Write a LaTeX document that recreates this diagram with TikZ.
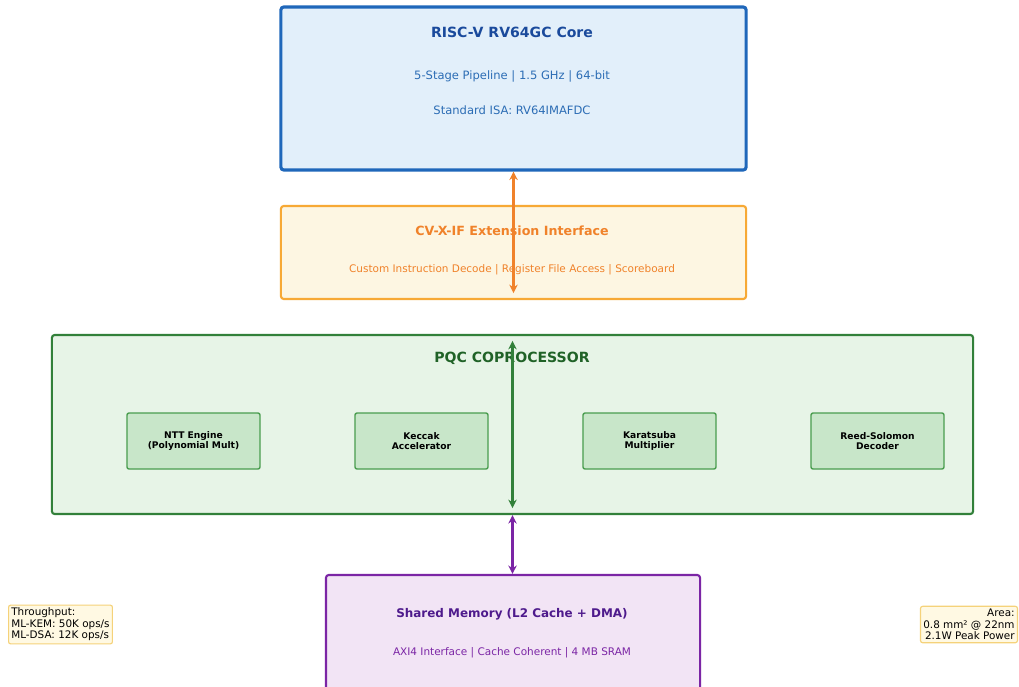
\documentclass[tikz,border=0pt]{standalone}
\usepackage{fontspec}
\setmainfont{DejaVu Sans}
\usetikzlibrary{arrows.meta}
\definecolor{coreline}{HTML}{1F67BA}
\definecolor{corefill}{HTML}{E2EFFA}
\definecolor{coretext}{HTML}{1A4A9C}
\definecolor{coresub}{HTML}{2C6DB5}
\definecolor{ifline}{HTML}{F7A935}
\definecolor{iffill}{HTML}{FDF6E2}
\definecolor{iftext}{HTML}{F0822A}
\definecolor{pqcline}{HTML}{32803A}
\definecolor{pqcfill}{HTML}{E7F4E7}
\definecolor{pqctext}{HTML}{206227}
\definecolor{unitfill}{HTML}{C8E6C9}
\definecolor{unitline}{HTML}{4A9D4F}
\definecolor{memline}{HTML}{7B25A5}
\definecolor{memfill}{HTML}{F2E4F5}
\definecolor{memtext}{HTML}{4E1A8C}
\definecolor{notefill}{HTML}{FFF9E3}
\definecolor{noteline}{HTML}{F5D27A}
\tikzset{
  block/.style={draw, rounded corners=2pt, line width=1.5pt},
  unit/.style={draw=unitline, fill=unitfill, rounded corners=1.5pt, line width=1pt,
    minimum width=3.325cm, minimum height=1.4cm, align=center,
    font=\fontsize{6.5}{6.8}\selectfont\bfseries},
  note/.style={draw=noteline, fill=notefill, rounded corners=1.5pt, line width=0.8pt,
    inner sep=2pt, font=\fontsize{7.4}{8.2}\selectfont},
  link/.style={{Stealth[length=6pt,width=6pt]}-{Stealth[length=6pt,width=6pt]}, line width=1.5pt}
}
\begin{document}
\begin{tikzpicture}[x=0.025cm, y=-0.025cm]
\useasboundingbox[fill=white] (0,0) rectangle (1019,686);
% host core
\node[block, draw=coreline, fill=corefill, line width=2.2pt, minimum width=11.625cm, minimum height=4.075cm] (core) at (513.5,88.5) {};
\node[text=coretext, font=\fontsize{10}{12}\selectfont\bfseries] (coretitle) at (512,32) {RISC-V RV64GC Core};
\node[text=coresub, font=\fontsize{8.2}{10}\selectfont] (corespec) at (512,76) {5-Stage Pipeline | 1.5 GHz | 64-bit};
\node[text=coresub, font=\fontsize{8.2}{10}\selectfont] (coreisa) at (512,110) {Standard ISA: RV64IMAFDC};
% extension interface
\node[block, draw=ifline, fill=iffill, minimum width=11.625cm, minimum height=2.325cm] (cvx) at (513.5,252.5) {};
\node[text=iftext, font=\fontsize{9}{11}\selectfont\bfseries] (cvxtitle) at (512,231) {CV-X-IF Extension Interface};
\node[text=iftext, font=\fontsize{7.45}{9}\selectfont] (cvxsub) at (512,270) {Custom Instruction Decode | Register File Access | Scoreboard};
% coprocessor
\node[block, draw=pqcline, fill=pqcfill, minimum width=23.025cm, minimum height=4.475cm] (pqc) at (512.5,424.5) {};
\node[text=pqctext, font=\fontsize{10}{12}\selectfont\bfseries] (pqctitle) at (512,358) {PQC COPROCESSOR};
\node[unit] (ntt) at (193.5,441) {NTT Engine\\(Polynomial Mult)};
\node[unit] (keccak) at (421.5,441) {Keccak\\Accelerator};
\node[unit] (kara) at (649.5,441) {Karatsuba\\Multiplier};
\node[unit] (rs) at (877.5,441) {Reed-Solomon\\Decoder};
% memory
\node[block, draw=memline, fill=memfill, minimum width=9.35cm, minimum height=3.05cm] (mem) at (513,636) {};
\node[text=memtext, font=\fontsize{8.5}{10}\selectfont\bfseries] (memtitle) at (512,614) {Shared Memory (L2 Cache + DMA)};
\node[text=memline, font=\fontsize{7.45}{9}\selectfont] (memsub) at (512,653) {AXI4 Interface | Cache Coherent | 4 MB SRAM};
% links
\draw[link, iftext] (core.south) -- ([yshift=0.175cm]core.south |- cvx.south);
\draw[link, pqcline] ([yshift=-0.175cm]pqc.north) -- ([yshift=0.175cm]pqc.south);
\draw[link, memline] (pqc.south) -- (pqc.south |- mem.north);
% figures
\node[note, anchor=west, align=left] (perf) at (8,624.5) {Throughput:\\ML-KEM: 50K ops/s\\ML-DSA: 12K ops/s};
\node[note, anchor=east, align=right] (area) at (1018,624.5) {Area:\\0.8 mm² @ 22nm\\2.1W Peak Power};
\end{tikzpicture}
\end{document}
